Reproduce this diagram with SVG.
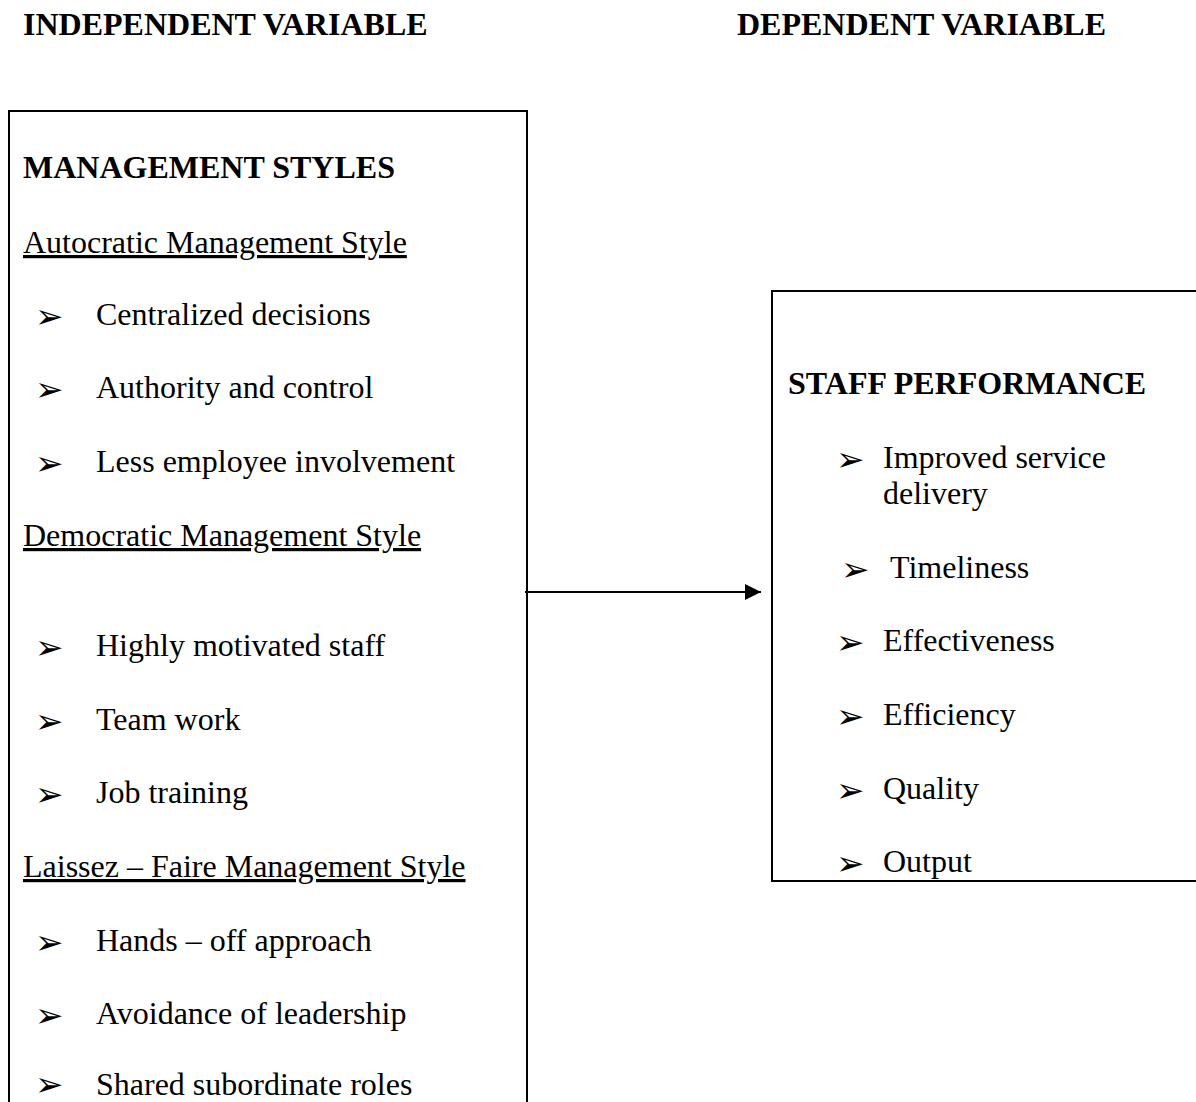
<svg xmlns="http://www.w3.org/2000/svg" width="1196" height="1102" viewBox="0 0 1196 1102">
<style>
.t{font-family:"Liberation Serif","Times New Roman",serif;font-size:32px;fill:#000}
.b{font-weight:bold}
.u{text-decoration:underline}
.bl{font-family:"DejaVu Sans",sans-serif;font-size:34px;fill:#000}
.box{fill:none;stroke:#000;stroke-width:2}
</style>
<defs>
<marker id="ah" markerWidth="16" markerHeight="16" refX="16" refY="8" orient="auto" markerUnits="userSpaceOnUse">
<path d="M0,0 L16,8 L0,16 Z" fill="#000"/>
</marker>
</defs>
<rect width="1196" height="1102" fill="#fff"/>
<g id="headers">
<text class="t b" x="23" y="35">INDEPENDENT VARIABLE</text>
<text class="t b" x="737" y="35">DEPENDENT VARIABLE</text>
</g>
<g id="management-styles">
<rect class="box" x="9" y="111" width="518" height="1100"/>
<text class="t b" x="23" y="178">MANAGEMENT STYLES</text>
<text class="t u" x="23" y="253">Autocratic Management Style</text>
<text class="bl" x="35" y="328">➢</text><text class="t" x="96" y="325">Centralized decisions</text>
<text class="bl" x="35" y="401">➢</text><text class="t" x="96" y="398">Authority and control</text>
<text class="bl" x="35" y="475">➢</text><text class="t" x="96" y="472">Less employee involvement</text>
<text class="t u" x="23" y="546">Democratic Management Style</text>
<text class="bl" x="35" y="659">➢</text><text class="t" x="96" y="656">Highly motivated staff</text>
<text class="bl" x="35" y="733">➢</text><text class="t" x="96" y="730">Team work</text>
<text class="bl" x="35" y="806">➢</text><text class="t" x="96" y="803">Job training</text>
<text class="t u" x="23" y="877">Laissez – Faire Management Style</text>
<text class="bl" x="35" y="954">➢</text><text class="t" x="96" y="951">Hands – off approach</text>
<text class="bl" x="35" y="1027">➢</text><text class="t" x="96" y="1024">Avoidance of leadership</text>
<text class="bl" x="35" y="1096">➢</text><text class="t" x="96" y="1095">Shared subordinate roles</text>
</g>
<g id="staff-performance">
<rect class="box" x="772" y="291" width="440" height="590"/>
<text class="t b" x="788" y="394">STAFF PERFORMANCE</text>
<text class="bl" x="836" y="471">➢</text><text class="t" x="883" y="468">Improved service</text>
<text class="t" x="883" y="504">delivery</text>
<text class="bl" x="841" y="581">➢</text><text class="t" x="890" y="578">Timeliness</text>
<text class="bl" x="836" y="654">➢</text><text class="t" x="883" y="651">Effectiveness</text>
<text class="bl" x="836" y="728">➢</text><text class="t" x="883" y="725">Efficiency</text>
<text class="bl" x="836" y="802">➢</text><text class="t" x="883" y="799">Quality</text>
<text class="bl" x="836" y="875">➢</text><text class="t" x="883" y="872">Output</text>
</g>
<g id="connectors">
<line x1="525" y1="592" x2="761" y2="592" stroke="#000" stroke-width="2" marker-end="url(#ah)"/>
</g>
</svg>
